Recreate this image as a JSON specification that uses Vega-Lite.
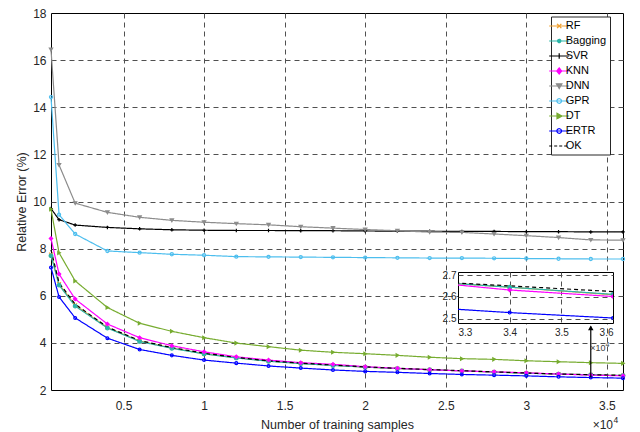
{
  "$schema": "https://vega.github.io/schema/vega-lite/v6.json",
  "autosize": {"type": "pad"},
  "padding": {"left": 15, "top": 6, "right": 5, "bottom": 0},
  "background": "white",
  "config": {
    "font": "Liberation Sans",
    "view": {"stroke": null},
    "axis": {"labelFontSize": 12, "titleFontSize": 12.5, "labelColor": "#262626", "titleColor": "#262626", "titleFontWeight": "normal", "gridColor": "#505050", "gridDash": [5, 4], "gridWidth": 1, "ticks": false, "domain": false, "labelFont": "Liberation Sans", "titleFont": "Liberation Sans"}
  },
  "datasets": {
    "err": [
      {"m": "RF", "n": 500, "e": 7.75}, {"m": "RF", "n": 1000, "e": 6.5}, {"m": "RF", "n": 2000, "e": 5.6}, {"m": "RF", "n": 4000, "e": 4.65}, {"m": "RF", "n": 6000, "e": 4.08}, {"m": "RF", "n": 8000, "e": 3.78}, {"m": "RF", "n": 10000, "e": 3.54}, {"m": "RF", "n": 12000, "e": 3.37}, {"m": "RF", "n": 14000, "e": 3.23}, {"m": "RF", "n": 16000, "e": 3.13}, {"m": "RF", "n": 18000, "e": 3.05}, {"m": "RF", "n": 20000, "e": 2.97}, {"m": "RF", "n": 22000, "e": 2.91}, {"m": "RF", "n": 24000, "e": 2.86}, {"m": "RF", "n": 26000, "e": 2.81}, {"m": "RF", "n": 28000, "e": 2.76}, {"m": "RF", "n": 30000, "e": 2.72}, {"m": "RF", "n": 32000, "e": 2.677}, {"m": "RF", "n": 34000, "e": 2.645}, {"m": "RF", "n": 36000, "e": 2.61},
      {"m": "Bagging", "n": 500, "e": 7.7}, {"m": "Bagging", "n": 1000, "e": 6.45}, {"m": "Bagging", "n": 2000, "e": 5.56}, {"m": "Bagging", "n": 4000, "e": 4.63}, {"m": "Bagging", "n": 6000, "e": 4.06}, {"m": "Bagging", "n": 8000, "e": 3.77}, {"m": "Bagging", "n": 10000, "e": 3.53}, {"m": "Bagging", "n": 12000, "e": 3.36}, {"m": "Bagging", "n": 14000, "e": 3.22}, {"m": "Bagging", "n": 16000, "e": 3.12}, {"m": "Bagging", "n": 18000, "e": 3.04}, {"m": "Bagging", "n": 20000, "e": 2.97}, {"m": "Bagging", "n": 22000, "e": 2.91}, {"m": "Bagging", "n": 24000, "e": 2.86}, {"m": "Bagging", "n": 26000, "e": 2.81}, {"m": "Bagging", "n": 28000, "e": 2.76}, {"m": "Bagging", "n": 30000, "e": 2.71}, {"m": "Bagging", "n": 32000, "e": 2.677}, {"m": "Bagging", "n": 34000, "e": 2.645}, {"m": "Bagging", "n": 36000, "e": 2.612},
      {"m": "SVR", "n": 500, "e": 9.7}, {"m": "SVR", "n": 1000, "e": 9.23}, {"m": "SVR", "n": 2000, "e": 9.0}, {"m": "SVR", "n": 4000, "e": 8.9}, {"m": "SVR", "n": 6000, "e": 8.84}, {"m": "SVR", "n": 8000, "e": 8.8}, {"m": "SVR", "n": 10000, "e": 8.78}, {"m": "SVR", "n": 12000, "e": 8.77}, {"m": "SVR", "n": 14000, "e": 8.77}, {"m": "SVR", "n": 16000, "e": 8.76}, {"m": "SVR", "n": 18000, "e": 8.76}, {"m": "SVR", "n": 20000, "e": 8.75}, {"m": "SVR", "n": 22000, "e": 8.74}, {"m": "SVR", "n": 24000, "e": 8.74}, {"m": "SVR", "n": 26000, "e": 8.73}, {"m": "SVR", "n": 28000, "e": 8.73}, {"m": "SVR", "n": 30000, "e": 8.72}, {"m": "SVR", "n": 32000, "e": 8.72}, {"m": "SVR", "n": 34000, "e": 8.71}, {"m": "SVR", "n": 36000, "e": 8.71},
      {"m": "KNN", "n": 500, "e": 8.43}, {"m": "KNN", "n": 1000, "e": 6.92}, {"m": "KNN", "n": 2000, "e": 5.86}, {"m": "KNN", "n": 4000, "e": 4.8}, {"m": "KNN", "n": 6000, "e": 4.22}, {"m": "KNN", "n": 8000, "e": 3.88}, {"m": "KNN", "n": 10000, "e": 3.62}, {"m": "KNN", "n": 12000, "e": 3.41}, {"m": "KNN", "n": 14000, "e": 3.27}, {"m": "KNN", "n": 16000, "e": 3.16}, {"m": "KNN", "n": 18000, "e": 3.09}, {"m": "KNN", "n": 20000, "e": 2.99}, {"m": "KNN", "n": 22000, "e": 2.92}, {"m": "KNN", "n": 24000, "e": 2.86}, {"m": "KNN", "n": 26000, "e": 2.81}, {"m": "KNN", "n": 28000, "e": 2.77}, {"m": "KNN", "n": 30000, "e": 2.73}, {"m": "KNN", "n": 32000, "e": 2.678}, {"m": "KNN", "n": 34000, "e": 2.632}, {"m": "KNN", "n": 36000, "e": 2.602},
      {"m": "DNN", "n": 500, "e": 16.45}, {"m": "DNN", "n": 1000, "e": 11.55}, {"m": "DNN", "n": 2000, "e": 9.93}, {"m": "DNN", "n": 4000, "e": 9.54}, {"m": "DNN", "n": 6000, "e": 9.33}, {"m": "DNN", "n": 8000, "e": 9.2}, {"m": "DNN", "n": 10000, "e": 9.12}, {"m": "DNN", "n": 12000, "e": 9.06}, {"m": "DNN", "n": 14000, "e": 9.01}, {"m": "DNN", "n": 16000, "e": 8.93}, {"m": "DNN", "n": 18000, "e": 8.87}, {"m": "DNN", "n": 20000, "e": 8.81}, {"m": "DNN", "n": 22000, "e": 8.76}, {"m": "DNN", "n": 24000, "e": 8.7}, {"m": "DNN", "n": 26000, "e": 8.69}, {"m": "DNN", "n": 28000, "e": 8.62}, {"m": "DNN", "n": 30000, "e": 8.55}, {"m": "DNN", "n": 32000, "e": 8.47}, {"m": "DNN", "n": 34000, "e": 8.37}, {"m": "DNN", "n": 36000, "e": 8.36},
      {"m": "GPR", "n": 500, "e": 14.43}, {"m": "GPR", "n": 1000, "e": 9.44}, {"m": "GPR", "n": 2000, "e": 8.62}, {"m": "GPR", "n": 4000, "e": 7.9}, {"m": "GPR", "n": 6000, "e": 7.83}, {"m": "GPR", "n": 8000, "e": 7.76}, {"m": "GPR", "n": 10000, "e": 7.72}, {"m": "GPR", "n": 12000, "e": 7.66}, {"m": "GPR", "n": 14000, "e": 7.65}, {"m": "GPR", "n": 16000, "e": 7.64}, {"m": "GPR", "n": 18000, "e": 7.63}, {"m": "GPR", "n": 20000, "e": 7.62}, {"m": "GPR", "n": 22000, "e": 7.61}, {"m": "GPR", "n": 24000, "e": 7.6}, {"m": "GPR", "n": 26000, "e": 7.6}, {"m": "GPR", "n": 28000, "e": 7.59}, {"m": "GPR", "n": 30000, "e": 7.58}, {"m": "GPR", "n": 32000, "e": 7.57}, {"m": "GPR", "n": 34000, "e": 7.56}, {"m": "GPR", "n": 36000, "e": 7.56},
      {"m": "DT", "n": 500, "e": 9.67}, {"m": "DT", "n": 1000, "e": 7.82}, {"m": "DT", "n": 2000, "e": 6.63}, {"m": "DT", "n": 4000, "e": 5.5}, {"m": "DT", "n": 6000, "e": 4.83}, {"m": "DT", "n": 8000, "e": 4.49}, {"m": "DT", "n": 10000, "e": 4.22}, {"m": "DT", "n": 12000, "e": 3.99}, {"m": "DT", "n": 14000, "e": 3.84}, {"m": "DT", "n": 16000, "e": 3.69}, {"m": "DT", "n": 18000, "e": 3.6}, {"m": "DT", "n": 20000, "e": 3.54}, {"m": "DT", "n": 22000, "e": 3.47}, {"m": "DT", "n": 24000, "e": 3.39}, {"m": "DT", "n": 26000, "e": 3.33}, {"m": "DT", "n": 28000, "e": 3.3}, {"m": "DT", "n": 30000, "e": 3.24}, {"m": "DT", "n": 32000, "e": 3.2}, {"m": "DT", "n": 34000, "e": 3.16}, {"m": "DT", "n": 36000, "e": 3.13},
      {"m": "ERTR", "n": 500, "e": 7.2}, {"m": "ERTR", "n": 1000, "e": 5.95}, {"m": "ERTR", "n": 2000, "e": 5.06}, {"m": "ERTR", "n": 4000, "e": 4.2}, {"m": "ERTR", "n": 6000, "e": 3.72}, {"m": "ERTR", "n": 8000, "e": 3.47}, {"m": "ERTR", "n": 10000, "e": 3.27}, {"m": "ERTR", "n": 12000, "e": 3.14}, {"m": "ERTR", "n": 14000, "e": 3.02}, {"m": "ERTR", "n": 16000, "e": 2.93}, {"m": "ERTR", "n": 18000, "e": 2.85}, {"m": "ERTR", "n": 20000, "e": 2.79}, {"m": "ERTR", "n": 22000, "e": 2.75}, {"m": "ERTR", "n": 24000, "e": 2.7}, {"m": "ERTR", "n": 26000, "e": 2.66}, {"m": "ERTR", "n": 28000, "e": 2.63}, {"m": "ERTR", "n": 30000, "e": 2.6}, {"m": "ERTR", "n": 32000, "e": 2.558}, {"m": "ERTR", "n": 34000, "e": 2.528}, {"m": "ERTR", "n": 36000, "e": 2.503},
      {"m": "OK", "n": 500, "e": 7.95}, {"m": "OK", "n": 1000, "e": 6.55}, {"m": "OK", "n": 2000, "e": 5.64}, {"m": "OK", "n": 4000, "e": 4.67}, {"m": "OK", "n": 6000, "e": 4.1}, {"m": "OK", "n": 8000, "e": 3.8}, {"m": "OK", "n": 10000, "e": 3.56}, {"m": "OK", "n": 12000, "e": 3.38}, {"m": "OK", "n": 14000, "e": 3.24}, {"m": "OK", "n": 16000, "e": 3.14}, {"m": "OK", "n": 18000, "e": 3.06}, {"m": "OK", "n": 20000, "e": 2.98}, {"m": "OK", "n": 22000, "e": 2.92}, {"m": "OK", "n": 24000, "e": 2.87}, {"m": "OK", "n": 26000, "e": 2.82}, {"m": "OK", "n": 28000, "e": 2.77}, {"m": "OK", "n": 30000, "e": 2.72}, {"m": "OK", "n": 32000, "e": 2.677}, {"m": "OK", "n": 34000, "e": 2.651}, {"m": "OK", "n": 36000, "e": 2.625}
    ]
  },
  "resolve": {"scale": {"color": "independent", "strokeDash": "independent", "shape": "independent", "fill": "independent", "stroke": "independent", "size": "independent"}},
  "columns": 2,
  "align": "none",
  "spacing": -188,
  "concat": [
    {
      "width": 572,
      "height": 377,
      "view": {"stroke": "black", "strokeWidth": 1},
      "data": {"name": "err"},
      "resolve": {"scale": {"color": "independent", "strokeDash": "independent", "shape": "independent", "fill": "independent"}},
      "encoding": {
        "x": {"field": "n", "type": "quantitative", "scale": {"domain": [500, 36000], "nice": false, "zero": false},
          "axis": {"title": "Number of training samples", "values": [5000, 10000, 15000, 20000, 25000, 30000, 35000], "labelExpr": "datum.value / 10000", "labelPadding": 10, "titlePadding": 7}},
        "y": {"field": "e", "type": "quantitative", "scale": {"domain": [2, 18], "nice": false, "zero": false},
          "axis": {"title": "Relative Error (%)", "values": [2, 4, 6, 8, 10, 12, 14, 16, 18], "labelPadding": 5, "titlePadding": 4,
            "gridOpacity": {"condition": {"test": "datum.value === 2 || datum.value === 18", "value": 0}, "value": 1}}}
      },
      "layer": [
        {
          "mark": {"type": "line", "strokeWidth": 1.2},
          "encoding": {
            "color": {"field": "m", "type": "nominal", "legend": null,
              "scale": {"domain": ["RF", "Bagging", "SVR", "KNN", "DNN", "GPR", "DT", "ERTR", "OK"], "range": ["#F0A030", "#2BB5A8", "#000000", "#FF00FF", "#8C8C8C", "#4DBEEE", "#77AC30", "#0000FF", "#000000"]}},
            "strokeDash": {"field": "m", "type": "nominal", "legend": null,
              "scale": {"domain": ["RF", "Bagging", "SVR", "KNN", "DNN", "GPR", "DT", "ERTR", "OK"], "range": [[1, 0], [1, 0], [1, 0], [1, 0], [1, 0], [1, 0], [1, 0], [1, 0], [4, 3]]}}
          }
        },
        {
          "transform": [{"filter": "datum.m !== 'OK'"}],
          "mark": {"type": "point", "strokeWidth": 1.2, "opacity": 1},
          "encoding": {
            "shape": {"field": "m", "type": "nominal", "legend": null,
              "scale": {"domain": ["RF", "Bagging", "SVR", "KNN", "DNN", "GPR", "DT", "ERTR"], "range": ["M-1,-1L1,1M-1,1L1,-1", "circle", "M-1,0H1M0,-1V1", "diamond", "triangle-down", "circle", "triangle-right", "circle"]}},
            "fill": {"field": "m", "type": "nominal", "legend": null,
              "scale": {"domain": ["RF", "Bagging", "SVR", "KNN", "DNN", "GPR", "DT", "ERTR"], "range": ["transparent", "#2BB5A8", "transparent", "#FF00FF", "#8C8C8C", "transparent", "#77AC30", "transparent"]}},
            "stroke": {"field": "m", "type": "nominal", "legend": null,
              "scale": {"domain": ["RF", "Bagging", "SVR", "KNN", "DNN", "GPR", "DT", "ERTR"], "range": ["#F0A030", "#2BB5A8", "#000000", "#FF00FF", "#8C8C8C", "#4DBEEE", "#77AC30", "#0000FF"]}},
            "size": {"field": "m", "type": "nominal", "legend": null,
              "scale": {"domain": ["RF", "Bagging", "SVR", "KNN", "DNN", "GPR", "DT", "ERTR"], "range": [14, 8, 20, 30, 35, 28, 35, 28]}}
          }
        },
        {
          "transform": [{"filter": "datum.n === 36000"}],
          "mark": {"type": "point", "opacity": 0, "strokeWidth": 1.2},
          "encoding": {
            "color": {"field": "m", "type": "nominal",
              "scale": {"domain": ["RF", "Bagging", "SVR", "KNN", "DNN", "GPR", "DT", "ERTR", "OK"], "range": ["#F0A030", "#2BB5A8", "#000000", "#FF00FF", "#8C8C8C", "#4DBEEE", "#77AC30", "#0000FF", "#000000"]},
              "legend": {"title": null, "orient": "none", "legendX": 500, "legendY": 3.5, "padding": 3, "strokeColor": "#262626", "fillColor": "white", "symbolSize": 121, "symbolStrokeWidth": 1.2, "symbolOpacity": 1, "symbolOffset": -1.3, "labelOffset": 0, "labelFontSize": 11, "labelColor": "#000000", "labelFont": "Liberation Sans", "rowPadding": 3}},
            "shape": {"field": "m", "type": "nominal",
              "scale": {"domain": ["RF", "Bagging", "SVR", "KNN", "DNN", "GPR", "DT", "ERTR", "OK"], "range": [
                "M-1.82,0H1.82M-0.4,-0.4L0.4,0.4M-0.4,0.4L0.4,-0.4",
                "M-1.82,0H1.82M0.3,0A0.3,0.3,0,1,1,-0.3,0A0.3,0.3,0,1,1,0.3,0",
                "M-1.82,0H1.82M0,-0.5V0.5",
                "M-1.82,0H1.82M0,-0.55L0.45,0L0,0.55L-0.45,0Z",
                "M-1.82,0H1.82M-0.5,-0.4L0.5,-0.4L0,0.45Z",
                "M-1.82,0H1.82M0.42,0A0.42,0.42,0,1,1,-0.42,0A0.42,0.42,0,1,1,0.42,0",
                "M-1.82,0H1.82M-0.4,-0.5L0.5,0L-0.4,0.5Z",
                "M-1.82,0H1.82M0.42,0A0.42,0.42,0,1,1,-0.42,0A0.42,0.42,0,1,1,0.42,0",
                "M-1.82,0H1.82"]},
              "legend": {"title": null, "orient": "none", "legendX": 500, "legendY": 3.5, "padding": 3, "strokeColor": "#262626", "fillColor": "white", "symbolSize": 121, "symbolStrokeWidth": 1.2, "symbolOpacity": 1, "symbolOffset": -1.3, "labelOffset": 0, "labelFontSize": 11, "labelColor": "#000000", "labelFont": "Liberation Sans", "rowPadding": 3}},
            "strokeDash": {"field": "m", "type": "nominal",
              "scale": {"domain": ["RF", "Bagging", "SVR", "KNN", "DNN", "GPR", "DT", "ERTR", "OK"], "range": [[1, 0], [1, 0], [1, 0], [1, 0], [1, 0], [1, 0], [1, 0], [1, 0], [3, 2]]},
              "legend": {"title": null, "orient": "none", "legendX": 500, "legendY": 3.5}},
            "fill": {"field": "m", "type": "nominal",
              "scale": {"domain": ["RF", "Bagging", "SVR", "KNN", "DNN", "GPR", "DT", "ERTR", "OK"], "range": ["transparent", "#2BB5A8", "transparent", "#FF00FF", "#8C8C8C", "transparent", "#77AC30", "transparent", "transparent"]},
              "legend": {"title": null, "orient": "none", "legendX": 500, "legendY": 3.5}}
          }
        },
        {
          "transform": [{"filter": "datum.m === 'ERTR' && datum.n === 34000"}],
          "mark": {"type": "rule", "color": "black", "strokeWidth": 1.2},
          "encoding": {"y2": {"datum": 4.7}}
        },
        {
          "transform": [{"filter": "datum.m === 'ERTR' && datum.n === 34000"}],
          "mark": {"type": "point", "shape": "triangle-up", "filled": true, "color": "black", "size": 30, "opacity": 1},
          "encoding": {"y": {"datum": 4.64}}
        },
        {
          "transform": [{"filter": "datum.m === 'OK' && datum.n === 36000"}],
          "mark": {"type": "text", "align": "right", "baseline": "alphabetic", "dy": 39, "dx": -10, "fontSize": 12, "color": "#262626", "font": "Liberation Sans"},
          "encoding": {"y": {"datum": 2}, "text": {"value": "×10"}}
        },
        {
          "transform": [{"filter": "datum.m === 'OK' && datum.n === 36000"}],
          "mark": {"type": "text", "align": "left", "baseline": "alphabetic", "dy": 33, "dx": -9.5, "fontSize": 8.5, "color": "#262626", "font": "Liberation Sans"},
          "encoding": {"y": {"datum": 2}, "text": {"value": "4"}}
        }
      ]
    },
    {
      "spacing": 10,
      "vconcat": [
        {
          "width": 1,
          "height": 246,
          "view": {"stroke": null},
          "data": {"values": [{"a": 0}]},
          "mark": {"type": "point", "opacity": 0}
        },
        {
          "width": 155,
          "height": 51,
          "view": {"fill": "white", "stroke": "black", "strokeWidth": 1},
          "data": {"name": "err"},
          "transform": [{"filter": "datum.n >= 32000"}],
          "encoding": {
            "x": {"field": "n", "type": "quantitative", "scale": {"domain": [33000, 36000], "nice": false, "zero": false},
              "axis": {"title": null, "values": [33000, 34000, 35000, 36000], "labelExpr": "datum.value / 10000", "labelFontSize": 10, "labelPadding": 4,
                "gridOpacity": {"condition": {"test": "datum.value === 33000 || datum.value === 36000", "value": 0}, "value": 1}}},
            "y": {"field": "e", "type": "quantitative", "scale": {"domain": [2.48, 2.715], "nice": false, "zero": false},
              "axis": {"title": null, "values": [2.5, 2.6, 2.7], "labelFontSize": 10, "labelPadding": 2, "format": ".1f"}}
          },
          "layer": [
            {
              "mark": {"type": "line", "strokeWidth": 1.2, "clip": true},
              "encoding": {
                "color": {"field": "m", "type": "nominal", "legend": null,
                  "scale": {"domain": ["RF", "Bagging", "SVR", "KNN", "DNN", "GPR", "DT", "ERTR", "OK"], "range": ["#F0A030", "#2BB5A8", "#000000", "#FF00FF", "#8C8C8C", "#4DBEEE", "#77AC30", "#0000FF", "#000000"]}},
                "strokeDash": {"field": "m", "type": "nominal", "legend": null,
                  "scale": {"domain": ["RF", "Bagging", "SVR", "KNN", "DNN", "GPR", "DT", "ERTR", "OK"], "range": [[1, 0], [1, 0], [1, 0], [1, 0], [1, 0], [1, 0], [1, 0], [1, 0], [4, 3]]}}
              }
            },
            {
              "transform": [{"filter": "datum.m !== 'OK'"}],
              "mark": {"type": "point", "strokeWidth": 1.2, "opacity": 1, "clip": true},
              "encoding": {
                "shape": {"field": "m", "type": "nominal", "legend": null,
                  "scale": {"domain": ["RF", "Bagging", "SVR", "KNN", "DNN", "GPR", "DT", "ERTR"], "range": ["M-1,-1L1,1M-1,1L1,-1", "circle", "M-1,0H1M0,-1V1", "diamond", "triangle-down", "circle", "triangle-right", "circle"]}},
                "fill": {"field": "m", "type": "nominal", "legend": null,
                  "scale": {"domain": ["RF", "Bagging", "SVR", "KNN", "DNN", "GPR", "DT", "ERTR"], "range": ["transparent", "#2BB5A8", "transparent", "#FF00FF", "#8C8C8C", "transparent", "#77AC30", "transparent"]}},
                "stroke": {"field": "m", "type": "nominal", "legend": null,
                  "scale": {"domain": ["RF", "Bagging", "SVR", "KNN", "DNN", "GPR", "DT", "ERTR"], "range": ["#F0A030", "#2BB5A8", "#000000", "#FF00FF", "#8C8C8C", "#4DBEEE", "#77AC30", "#0000FF"]}},
                "size": {"field": "m", "type": "nominal", "legend": null,
                  "scale": {"domain": ["RF", "Bagging", "SVR", "KNN", "DNN", "GPR", "DT", "ERTR"], "range": [14, 8, 20, 30, 35, 28, 35, 28]}}
              }
            },
            {
              "transform": [{"filter": "datum.m === 'OK' && datum.n === 36000"}],
              "mark": {"type": "text", "align": "right", "baseline": "alphabetic", "dy": 28, "dx": -7.5, "fontSize": 9, "color": "#404040", "font": "Liberation Sans"},
              "encoding": {"y": {"datum": 2.48}, "text": {"value": "×10"}}
            },
            {
              "transform": [{"filter": "datum.m === 'OK' && datum.n === 36000"}],
              "mark": {"type": "text", "align": "left", "baseline": "alphabetic", "dy": 24, "dx": -7.5, "fontSize": 7, "color": "#404040", "font": "Liberation Sans"},
              "encoding": {"y": {"datum": 2.48}, "text": {"value": "4"}}
            }
          ]
        }
      ]
    }
  ]
}
